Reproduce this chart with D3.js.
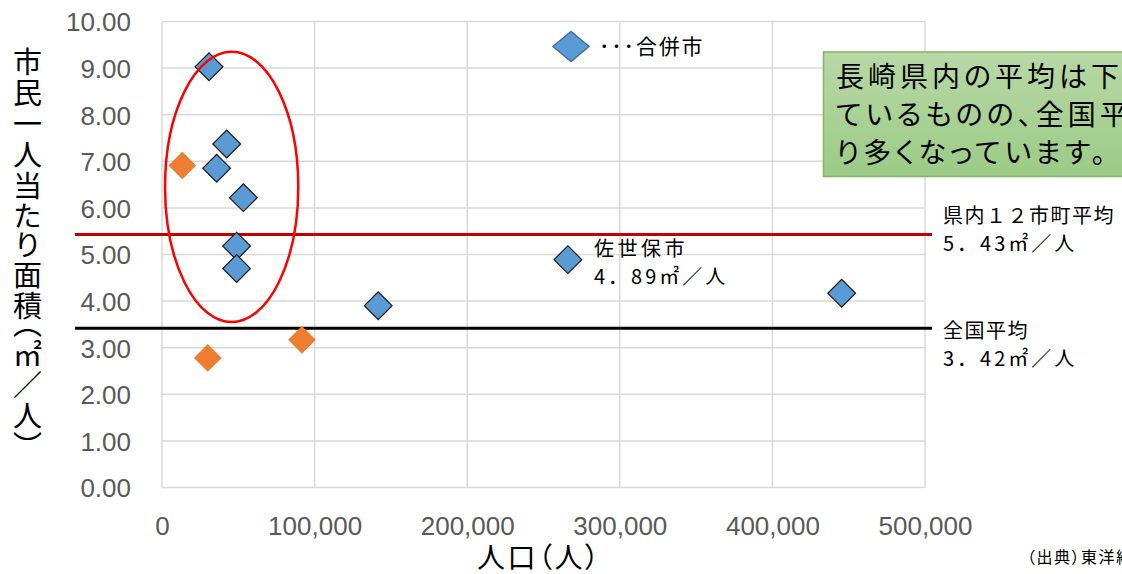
<!DOCTYPE html>
<html>
<head>
<meta charset="utf-8">
<script src="https://cdn.jsdelivr.net/npm/d3@7"></script>
<style>
  html, body { margin: 0; padding: 0; background: #fff; overflow: hidden; }
  svg { display: block; }
  .jp { font-family: "Noto Sans CJK JP", "Noto Sans", sans-serif; }
  .palt { font-feature-settings: "palt" 1; }
  .vert { writing-mode: vertical-rl; text-orientation: upright; font-feature-settings: "vpal" 1; }
</style>
</head>
<body>
<svg id="chart" width="1122" height="574"></svg>
<script>
// Merged cities (blue) and other cities (orange): population vs park area per resident
const mergedPop  = [30800, 42400, 35800, 53300, 48900, 48900, 141700, 266000, 445400];
const mergedArea = [9.03, 7.37, 6.85, 6.22, 5.18, 4.70, 3.90, 4.89, 4.17];
const otherPop   = [13300, 30000, 91700];
const otherArea  = [6.91, 2.78, 3.17];

const yTicks = [0, 1, 2, 3, 4, 5, 6, 7, 8, 9, 10];
const xTicks = [0, 100000, 200000, 300000, 400000, 500000];

const prefAvg = 5.43;     // 県内12市町平均
const nationAvg = 3.42;   // 全国平均
const saseboPop = 266000, saseboArea = 4.89;

const svg = d3.select("#chart");
const x = d3.scaleLinear().domain([0, 500000]).range([162, 925]);
const y = d3.scaleLinear().domain([0, 10]).range([487.5, 21.5]);

// gridlines
const grid = svg.append("g").attr("stroke", "#d9d9d9").attr("stroke-width", 1.5);
grid.selectAll("line.h").data(yTicks).join("line")
  .attr("x1", x(0)).attr("x2", x(500000))
  .attr("y1", d => y(d)).attr("y2", d => y(d));
grid.selectAll("line.v").data(xTicks).join("line")
  .attr("y1", y(0)).attr("y2", y(10))
  .attr("x1", d => x(d)).attr("x2", d => x(d));

// axes (labels only)
const yAxis = d3.axisLeft(y).tickValues(yTicks).tickFormat(d3.format(".2f")).tickSize(0).tickPadding(0);
const gy = svg.append("g").attr("transform", "translate(131,0)").call(yAxis);
gy.select(".domain").remove();
gy.selectAll("text").attr("fill", "#595959")
  .style("font-family", "'Liberation Sans', Arial, sans-serif").style("font-size", "26px")
  .attr("dy", "0.36em");

const xAxis = d3.axisBottom(x).tickValues(xTicks).tickFormat(d3.format(",")).tickSize(0).tickPadding(0);
const gx = svg.append("g").attr("transform", "translate(0,516)").call(xAxis);
gx.select(".domain").remove();
gx.selectAll("text").attr("fill", "#595959")
  .style("font-family", "'Liberation Sans', Arial, sans-serif").style("font-size", "26px")
  .attr("dy", "0.72em");

// x-axis title
svg.append("text").attr("class", "jp palt")
  .attr("x", 477).attr("y", 568)
  .style("font-size", "28px").style("letter-spacing", "2.5px").attr("fill", "#000")
  .text("人口（人）");

// y-axis title (vertical)
svg.append("text").attr("class", "jp vert")
  .attr("x", 27.5).attr("y", 47)
  .style("font-size", "29px").style("letter-spacing", "2px").attr("fill", "#000")
  .text("市民一人当たり面積（㎡／人）");

// reference lines
svg.append("line")
  .attr("x1", x(0) - 87).attr("x2", x(500000) + 7)
  .attr("y1", y(prefAvg)).attr("y2", y(prefAvg))
  .attr("stroke", "#c00000").attr("stroke-width", 3);
svg.append("line")
  .attr("x1", x(0) - 87).attr("x2", x(500000) + 7)
  .attr("y1", y(nationAvg)).attr("y2", y(nationAvg))
  .attr("stroke", "#000").attr("stroke-width", 3);

// diamond markers
const diamond = d3.symbol().type(d3.symbolSquare).size(384);
svg.append("g").selectAll("path").data(otherPop.map((p, i) => [p, otherArea[i]])).join("path")
  .attr("d", diamond)
  .attr("transform", d => `translate(${x(d[0])},${y(d[1])}) rotate(45)`)
  .attr("fill", "#ed7d31");
svg.append("g").selectAll("path").data(mergedPop.map((p, i) => [p, mergedArea[i]])).join("path")
  .attr("d", diamond)
  .attr("transform", d => `translate(${x(d[0])},${y(d[1])}) rotate(45)`)
  .attr("fill", "#5b9bd5").attr("stroke", "#1a1a1a").attr("stroke-width", 1.2);

// ellipse around the small merged cities
const ex0 = 2000, ex1 = 89300, ey0 = 3.55, ey1 = 9.35;
svg.append("ellipse")
  .attr("cx", (x(ex0) + x(ex1)) / 2).attr("cy", (y(ey0) + y(ey1)) / 2)
  .attr("rx", (x(ex1) - x(ex0)) / 2).attr("ry", (y(ey0) - y(ey1)) / 2)
  .attr("fill", "none").attr("stroke", "#ff0000").attr("stroke-width", 2.5);

// legend
svg.append("path")
  .attr("d", "M553,46.5 L571,31.5 L589,46.5 L571,61.5 Z")
  .attr("fill", "#5b9bd5").attr("stroke", "#41719c").attr("stroke-width", 1.5);
svg.append("text").attr("class", "jp")
  .attr("x", 599).attr("y", 54).style("font-size", "21px").style("letter-spacing", "1.8px")
  .attr("fill", "#000").text("･･･合併市");

// annotations
const note = (tx, ty, title, value, ls1, ls2) => {
  const t = svg.append("text").attr("class", "jp").attr("x", tx).attr("y", ty)
    .style("font-size", "20px").attr("fill", "#000");
  t.append("tspan").attr("x", tx).style("letter-spacing", ls1).text(title);
  t.append("tspan").attr("x", tx).attr("dy", 28).style("letter-spacing", ls2)
    .text(`${String(value).replace(".", "．")}㎡／人`);
};
note(594, 256, "佐世保市", saseboArea, "3.5px", "3px");
note(943, 223, "県内１２市町平均", prefAvg, "1.5px", "3px");
note(943, 338, "全国平均", nationAvg, "1.5px", "3px");

// callout box
const defs = svg.append("defs");
const grad = defs.append("linearGradient").attr("id", "boxFill").attr("x1", 0).attr("y1", 0).attr("x2", 0).attr("y2", 1);
grad.append("stop").attr("offset", 0).attr("stop-color", "#b8d8a6");
grad.append("stop").attr("offset", 1).attr("stop-color", "#9ccb86");
svg.append("rect").attr("x", 823.5).attr("y", 52).attr("width", 320).attr("height", 124.5)
  .attr("fill", "url(#boxFill)").attr("stroke", "#82b366").attr("stroke-width", 1.5);
const box = svg.append("text").attr("class", "jp palt").attr("x", 836).attr("y", 87)
  .style("font-size", "28px").style("letter-spacing", "4px").attr("fill", "#000");
["長崎県内の平均は下", "ているものの、全国平", "り多くなっています。"].forEach((s, i) =>
  box.append("tspan").attr("x", 836).attr("dy", i ? 38 : 0).text(s));

// source
svg.append("text").attr("class", "jp palt")
  .attr("x", 1027).attr("y", 563).style("font-size", "16px").style("letter-spacing", "1.5px")
  .attr("fill", "#000")
  .text("（出典）東洋経済");
</script>
</body>
</html>
